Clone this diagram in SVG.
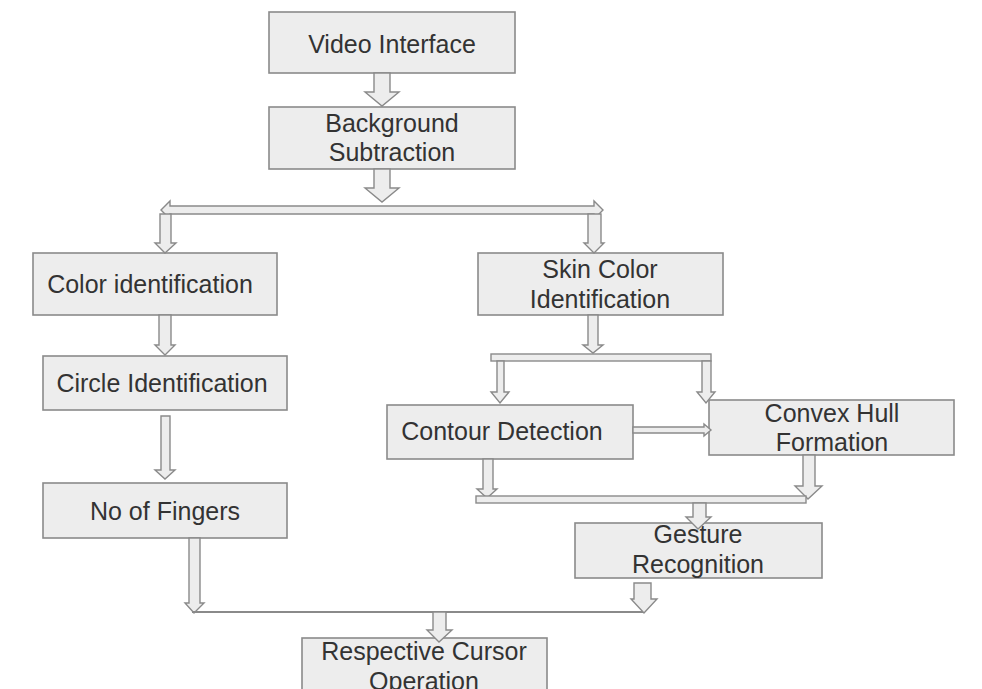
<svg xmlns="http://www.w3.org/2000/svg" width="982" height="689" viewBox="0 0 982 689">
<style>
.box{fill:#ededed;stroke:#8a8a8a;stroke-width:1.6}
.lbl{font-family:"Liberation Sans",Arial,sans-serif;font-size:25px;fill:#333;text-anchor:middle}
.arr{fill:#ededed;stroke:#8a8a8a;stroke-width:1.4;stroke-linejoin:miter}
.ln{stroke:#8a8a8a;stroke-width:2;fill:none}
</style>
<rect width="982" height="689" fill="#fff"/>
<g id="video-interface"><rect class="box" x="269" y="12" width="246" height="61"/><text class="lbl" x="392" y="53">Video Interface</text></g>
<g id="background-subtraction"><rect class="box" x="269" y="107" width="246" height="62"/><text class="lbl" x="392" y="132">Background</text><text class="lbl" x="392" y="161">Subtraction</text></g>
<g id="color-identification"><rect class="box" x="33" y="253" width="244" height="62"/><text class="lbl" x="150" y="293">Color identification</text></g>
<g id="circle-identification"><rect class="box" x="43" y="356" width="244" height="54"/><text class="lbl" x="162" y="392">Circle Identification</text></g>
<g id="no-of-fingers"><rect class="box" x="43" y="483" width="244" height="55"/><text class="lbl" x="165" y="520">No of Fingers</text></g>
<g id="skin-color-identification"><rect class="box" x="478" y="253" width="245" height="62"/><text class="lbl" x="600" y="278">Skin Color</text><text class="lbl" x="600" y="308">Identification</text></g>
<g id="contour-detection"><rect class="box" x="387" y="405" width="246" height="54"/><text class="lbl" x="502" y="440">Contour Detection</text></g>
<g id="convex-hull-formation"><rect class="box" x="709" y="400" width="245" height="55"/><text class="lbl" x="832" y="422">Convex Hull</text><text class="lbl" x="832" y="451">Formation</text></g>
<g id="gesture-recognition"><rect class="box" x="575" y="523" width="247" height="55"/><text class="lbl" x="698" y="543">Gesture</text><text class="lbl" x="698" y="573">Recognition</text></g>
<g id="respective-cursor-operation"><rect class="box" x="302" y="638" width="245" height="62"/><text class="lbl" x="424" y="660">Respective Cursor</text><text class="lbl" x="424" y="690">Operation</text></g>
<g id="connectors">
<polygon class="arr" points="374,73 390,73 390,92 399,92 382,106 365,92 374,92"/>
<polygon class="arr" points="374,169 390,169 390,188 399,188 382,202 365,188 374,188"/>
<polygon class="arr" points="161,210 170,201 170,206 594,206 594,201 603,210 594,219 594,214 170,214 170,219"/>
<polygon class="arr" points="160,214 171,214 171,243 176,243 165,253 155,243 160,243"/>
<polygon class="arr" points="588,214 601,214 601,243 604,243 594,253 584,243 588,243"/>
<polygon class="arr" points="159,315 171,315 171,345 175,345 165,355 155,345 159,345"/>
<polygon class="arr" points="161,416 170,416 170,470 175,470 165,479 155,470 161,470"/>
<polygon class="arr" points="189,538 200,538 200,603 204,603 194,613 185,603 189,603"/>
<line class="ln" x1="192" y1="612" x2="645" y2="612"/>
<polygon class="arr" points="634,583 651,583 651,599 657,599 644,613 631,599 634,599"/>
<polygon class="arr" points="433,612 446,612 446,630 452,630 439,642 427,630 433,630"/>
<polygon class="arr" points="588,315 598,315 598,345 603,345 593,353 583,345 588,345"/>
<rect class="arr" x="491" y="354" width="220" height="7"/>
<polygon class="arr" points="497,361 504,361 504,392 509,392 500,403 491,392 497,392"/>
<polygon class="arr" points="702,361 711,361 711,392 715,392 706,403 697,392 702,392"/>
<polygon class="arr" points="633,427 704,427 704,424 711,430 704,436 704,433 633,433"/>
<polygon class="arr" points="483,459 493,459 493,489 497,489 487,498 477,489 483,489"/>
<polygon class="arr" points="803,455 815,455 815,486 822,486 808,499 795,486 803,486"/>
<rect class="arr" x="476" y="496" width="330" height="7"/>
<polygon class="arr" points="693,503 706,503 706,517 711,517 698,529 686,517 693,517"/>
</g>
</svg>
